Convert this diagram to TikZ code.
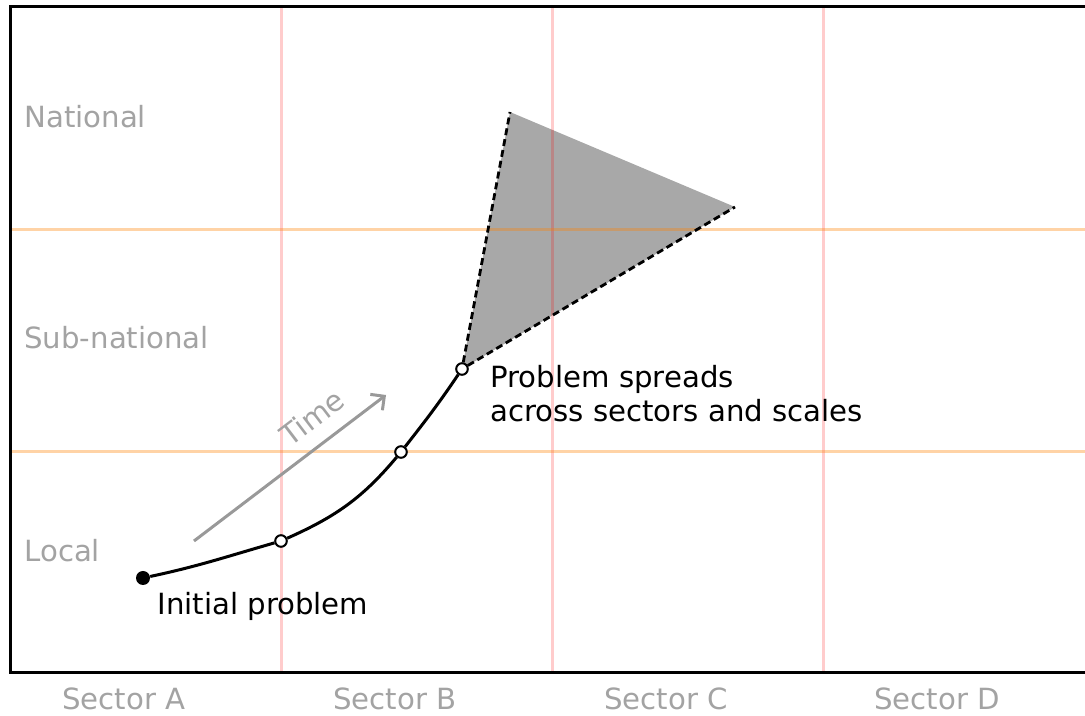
\documentclass[tikz,border=0pt]{standalone}
\usepackage{fontspec}
\setmainfont{DejaVu Sans}
\usetikzlibrary{arrows.meta}

\definecolor{labelgray}{HTML}{A3A3A3}
\definecolor{arrowgray}{HTML}{999999}
\definecolor{spreadgray}{HTML}{A8A8A8}

\begin{document}
\begin{tikzpicture}[
    x=0.5pt, y=0.5pt,
    every node/.style={font=\fontsize{14.6}{17}\selectfont, inner sep=0pt},
    axisline/.style={line width=1.5pt, line join=miter},
    sectorline/.style={red, opacity=0.2, line width=1.5pt},
    scaleline/.style={orange, opacity=0.35, line width=1.5pt},
    dimlabel/.style={text=labelgray},
    startpt/.style={circle, fill=black, minimum size=7pt},
    pathpt/.style={circle, draw=black, fill=white, line width=1pt, minimum size=5.8pt},
    spreadedge/.style={line width=1.4pt, dash pattern=on 3.5pt off 2pt},
    timearrow/.style={arrowgray, line width=1.5pt, -{Straight Barb[length=5pt,width=10pt]}}
]
\useasboundingbox (0,0) rectangle (1085,716);

% --- Points on the spread path ---
\coordinate (origin) at (143,138);
\coordinate (cross1) at (281,175);
\coordinate (cross2) at (401,264);
\coordinate (spread) at (462,347);
\coordinate (tipA) at (510,604);
\coordinate (tipB) at (735,509);

% --- Spread area ---
\fill[spreadgray] (spread) -- (tipA) -- (tipB) -- cycle;

% --- Grid of sectors and scales ---
\foreach \x in {281,552,823}
    \draw[sectorline] (\x,709) -- (\x,43);
\foreach \y in {264,486}
    \draw[scaleline] (10,\y) -- (1085,\y);

% --- Frame ---
\coordinate (tr) at (1085,709);
\coordinate (tl) at (10,709);
\coordinate (bl) at (10,43);
\coordinate (br) at (1085,43);
\draw[axisline] (tr) -- (tl) -- (bl) -- (br);

% --- Scale labels ---
\node[dimlabel, anchor=base west] (national) at (24,588) {National};
\node[dimlabel, anchor=base west] (subnational) at (24,367) {Sub-national};
\node[dimlabel, anchor=base west] (local) at (24,154) {Local};

% --- Sector labels ---
\node[dimlabel, anchor=base] (secA) at (124,6) {Sector A};
\node[dimlabel, anchor=base] (secB) at (395,6) {Sector B};
\node[dimlabel, anchor=base] (secC) at (666,6) {Sector C};
\node[dimlabel, anchor=base] (secD) at (937,6) {Sector D};

% --- Time arrow ---
\coordinate (timefrom) at (194,175);
\coordinate (timeto) at (386,321);
\draw[timearrow] (timefrom) -- (timeto)
    node[pos=0.7, sloped, above=7pt, text=labelgray] (time) {Time};

% --- Dashed spread edges ---
\node[pathpt] (p3) at (spread) {};
\draw[spreadedge] (p3) -- (tipA);
\draw[spreadedge] (p3) -- (tipB);

% --- Path of the problem ---
\node[startpt] (p0) at (origin) {};
\node[pathpt] (p1) at (cross1) {};
\node[pathpt] (p2) at (cross2) {};
\draw[line width=1.5pt] (p0) to[out=12,in=196] (p1)
    to[out=24,in=230] (p2) to[out=52,in=236] (p3);

% --- Annotations ---
\node[anchor=base west] (initial) at (157,101) {Initial problem};
\node[anchor=north west, align=left] (spreads) at (490,351)
    {Problem spreads\\across sectors and scales};

\end{tikzpicture}
\end{document}
